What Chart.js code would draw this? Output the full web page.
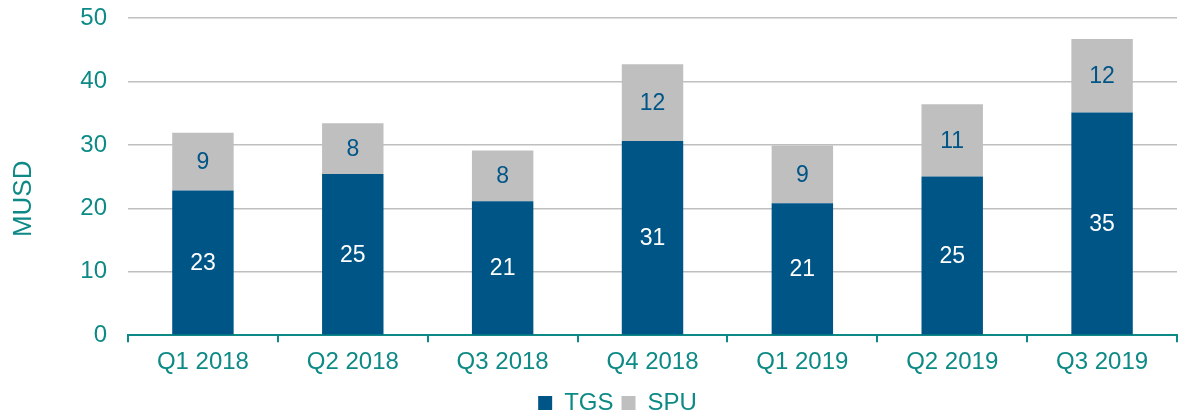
<!DOCTYPE html>
<html>
<head>
<meta charset="utf-8">
<script src="https://cdn.jsdelivr.net/npm/chart.js@4.4.1/dist/chart.umd.min.js"></script>
<style>
html,body{margin:0;padding:0;background:#fff;}
#wrap{width:1184px;height:416px;}
</style>
</head>
<body>
<div id="wrap"><canvas id="c" width="1184" height="416"></canvas></div>
<script>
const categories = ['Q1 2018','Q2 2018','Q3 2018','Q4 2018','Q1 2019','Q2 2019','Q3 2019'];
const tgsValues = [22.8, 25.4, 21.1, 30.6, 20.8, 25.0, 35.1];
const spuValues = [9.1, 8.0, 8.0, 12.1, 9.1, 11.4, 11.6];
const yTicks = [0, 10, 20, 30, 40, 50];
const yTitle = 'MUSD';

const TEAL = '#0e8a86';
const BLUE = '#005587';
const GREY = '#bfbfbf';
const FONT = "'Liberation Sans', Arial, sans-serif";

const labelPlugin = {
  id: 'barLabels',
  afterDatasetsDraw(chart) {
    const ctx = chart.ctx;
    ctx.save();
    ctx.font = '23px ' + FONT;
    ctx.textAlign = 'center';
    ctx.textBaseline = 'middle';
    chart.data.datasets.forEach((ds, di) => {
      const meta = chart.getDatasetMeta(di);
      meta.data.forEach((bar, i) => {
        const v = ds.data[i];
        ctx.fillStyle = di === 0 ? '#ffffff' : BLUE;
        ctx.fillText(String(Math.round(v)), bar.x, (bar.y + bar.base) / 2 + 1);
      });
    });
    ctx.restore();
  }
};

const yTitlePlugin = {
  id: 'yTitle',
  afterDraw(chart) {
    const ctx = chart.ctx;
    const a = chart.chartArea;
    ctx.save();
    ctx.font = '26px ' + FONT;
    ctx.fillStyle = TEAL;
    ctx.textAlign = 'center';
    ctx.textBaseline = 'middle';
    ctx.translate(24, a.top + (a.bottom - a.top) * 0.57);
    ctx.rotate(-Math.PI / 2);
    ctx.fillText(yTitle, 0, 0);
    ctx.restore();
  }
};

const legendShift = {
  id: 'legendShift',
  afterLayout(chart) {
    const lg = chart.legend;
    if (lg) { lg.left += 29; lg.right += 29; }
  }
};

new Chart(document.getElementById('c'), {
  type: 'bar',
  data: {
    labels: categories,
    datasets: [
      { label: 'TGS', data: tgsValues, backgroundColor: BLUE, barPercentage: 0.41, categoryPercentage: 1 },
      { label: 'SPU', data: spuValues, backgroundColor: GREY, barPercentage: 0.41, categoryPercentage: 1 }
    ]
  },
  options: {
    responsive: false,
    animation: false,
    layout: { padding: { top: 18, right: 7, left: 0, bottom: -9 } },
    plugins: {
      legend: {
        position: 'bottom',
        labels: {
          font: { family: FONT, size: 24 },
          color: TEAL,
          boxWidth: 14,
          boxHeight: 14,
          padding: 8
        }
      },
      tooltip: { enabled: false }
    },
    scales: {
      x: {
        stacked: true,
        offset: true,
        grid: { offset: true, drawOnChartArea: false, color: TEAL, lineWidth: 2, tickLength: 7 },
        border: { display: true, color: TEAL, width: 2 },
        ticks: { color: TEAL, font: { family: FONT, size: 24 }, padding: 6, maxRotation: 0 }
      },
      y: {
        stacked: true,
        min: 0,
        max: 50,
        afterBuildTicks(scale) { scale.ticks = yTicks.map(v => ({ value: v })); },
        grid: { color: GREY, lineWidth: 1.5, drawTicks: false },
        border: { display: false },
        ticks: { color: TEAL, font: { family: FONT, size: 24 }, padding: 21 },
        title: { display: false },
        afterFit(scale) { scale.width = 128; scale.paddingTop = 0; scale.paddingBottom = 0; }
      }
    }
  },
  plugins: [labelPlugin, yTitlePlugin, legendShift]
});
</script>
</body>
</html>
